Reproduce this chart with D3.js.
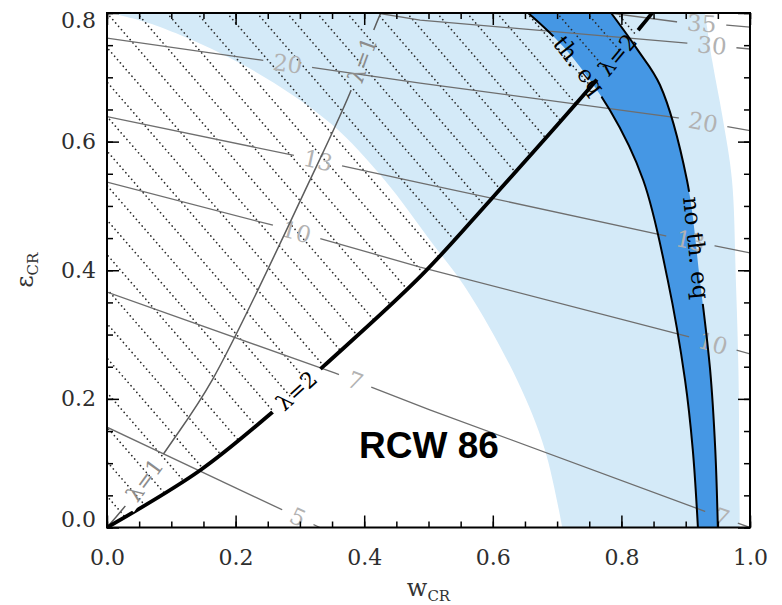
<!DOCTYPE html>
<html>
<head>
<meta charset="utf-8">
<script src="https://cdn.jsdelivr.net/npm/d3@7"></script>
<style>
  body { margin: 0; background: #fff; }
  svg { display: block; }
</style>
</head>
<body>
<svg id="chart" width="782" height="605"></svg>
<script>
// ---------------- data: points are [w_CR, eps_CR] ----------------
const xTicks = [0, 0.2, 0.4, 0.6, 0.8, 1.0];
const yTicks = [0, 0.2, 0.4, 0.6, 0.8];

// allowed (light blue) region: inner and outer boundary, top to bottom
const regionInner = [[0.005,0.80],[0.075,0.781],[0.218,0.716],[0.347,0.629],[0.432,0.540],
                     [0.502,0.447],[0.560,0.369],[0.638,0.229],[0.681,0.121],[0.708,0.0]];
const regionOuter = [[0.930,0.80],[0.941,0.727],[0.957,0.640],[0.972,0.540],[0.978,0.385],
                     [0.982,0.245],[0.984,0.0]];

// band between thermal equilibrium and no thermal equilibrium
const thEqCurve   = [[0.655,0.80],[0.714,0.743],[0.782,0.649],[0.834,0.540],[0.872,0.385],
                     [0.899,0.229],[0.911,0.121],[0.919,0.0]];
const noThEqCurve = [[0.784,0.80],[0.825,0.743],[0.860,0.688],[0.902,0.540],[0.922,0.385],
                     [0.938,0.245],[0.946,0.121],[0.950,0.0]];

// lambda curves
const lambda1 = [[0,0],[0.036,0.043],[0.098,0.129],[0.164,0.230],[0.316,0.541],
                 [0.378,0.676],[0.415,0.774],[0.430,0.81]];
const lambda2 = [[0,0],[0.145,0.089],[0.258,0.180],[0.336,0.250],[0.487,0.390],
                 [0.596,0.509],[0.759,0.693],[0.829,0.777],[0.860,0.815]];

// grey contours and their levels
const contourLevels = ["5", "7", "10", "13", "20", "30", "35"];
const contourPaths = [
  [[0,0.156],[0.331,0.0]],
  [[0,0.366],[0.355,0.240],[0.502,0.183],[0.933,0.024],[1.0,0.0]],
  [[0,0.537],[0.258,0.470],[0.487,0.405],[0.907,0.296],[1.0,0.270]],
  [[0,0.639],[0.289,0.579],[0.487,0.536],[0.876,0.452],[1.0,0.427]],
  [[0,0.761],[0.238,0.727],[0.487,0.691],[0.888,0.637],[1.0,0.617]],
  [[0.42,0.80],[0.487,0.789],[0.902,0.753],[1.0,0.744]],
  [[0.782,0.80],[0.888,0.786],[0.964,0.781],[1.0,0.778]]
];
// w_CR positions of the in-line labels for each contour
const contourLabelW = [[0.297],[0.386,0.956],[0.295,0.942],[0.328,0.907],[0.281,0.927],[0.941],[0.925]];

// in-line labels of the lambda curves: [text, curve index, axis, value]
const lambdaLabels = [["λ=1",0,"x",0.059],["λ=1",0,"y",0.727],["λ=2",1,"x",0.295],["λ=2",1,"x",0.794]];
// in-line labels of the band edges: [text, curve index, eps_CR]
const bandLabels = [["th. eq",0,0.719],["no th. eq",1,0.435]];

const sourceName = "RCW 86";

// ---------------- layout ----------------
const X0 = 107, X1 = 750, Y0 = 527.5, Y1 = 13;
const x = d3.scaleLinear().domain([0, 1]).range([X0, X1]);
const y = d3.scaleLinear().domain([0, 0.8]).range([Y0, Y1]);

const svg = d3.select("#chart");
const defs = svg.append("defs");
defs.append("clipPath").attr("id", "plot-clip").append("rect")
  .attr("x", X0).attr("y", Y1).attr("width", X1 - X0).attr("height", Y0 - Y1);

const smooth = d3.line().x(d => x(d[0])).y(d => y(d[1])).curve(d3.curveCatmullRom.alpha(0.5));
const straight = d3.line().x(d => x(d[0])).y(d => y(d[1]));

// closed area between two boundaries that both run top to bottom
function between(a, b) {
  return smooth(a) + "L" + smooth(b.slice().reverse()).slice(1) + "Z";
}

function makeMask(id) {
  const m = defs.append("mask").attr("id", id).attr("maskUnits", "userSpaceOnUse")
    .attr("x", 0).attr("y", 0).attr("width", 782).attr("height", 605);
  m.append("rect").attr("width", 782).attr("height", 605).attr("fill", "#fff");
  return m;
}

// point on a drawn path where its x (or y) equals a pixel target, with local direction
function locate(node, key, target) {
  const L = node.getTotalLength();
  let best = 0, bd = Infinity;
  for (let s = 0; s <= L; s += 0.5) {
    const p = node.getPointAtLength(s);
    const dd = Math.abs(p[key] - target);
    if (dd < bd) { bd = dd; best = s; }
  }
  const p = node.getPointAtLength(best);
  const a = node.getPointAtLength(Math.max(0, best - 4));
  const b = node.getPointAtLength(Math.min(L, best + 4));
  let ang = Math.atan2(b.y - a.y, b.x - a.x) * 180 / Math.PI;
  if (ang > 90) ang -= 180;
  if (ang < -90) ang += 180;
  return { x: p.x, y: p.y, angle: ang };
}

// text along a line, with a gap cut into the line underneath
function inlineLabel(layer, mask, node, key, pix, txt, size, color, pad) {
  const p = locate(node, key, pix);
  const tf = `translate(${p.x},${p.y}) rotate(${p.angle})`;
  const t = layer.append("text").attr("transform", tf)
    .attr("text-anchor", "middle").attr("dominant-baseline", "central")
    .attr("font-family", "'DejaVu Serif', serif").attr("font-size", size)
    .attr("fill", color).text(txt);
  const w = t.node().getComputedTextLength();
  const h = size * 0.9;
  mask.append("rect").attr("transform", tf)
    .attr("x", -w / 2 - pad).attr("y", -h / 2).attr("width", w + 2 * pad).attr("height", h)
    .attr("fill", "#000");
}

const plot = svg.append("g").attr("clip-path", "url(#plot-clip)");

// filled regions
plot.append("path").attr("d", between(regionInner, regionOuter)).attr("fill", "#d4eaf8");
plot.append("path").attr("d", between(thEqCurve, noThEqCurve)).attr("fill", "#4597e4");

// dotted hatching above the lambda = 2 curve
defs.append("clipPath").attr("id", "hatch-clip").append("path")
  .attr("d", smooth(lambda2) + `L${x(0)},${y(0.86)}Z`);
const hatch = plot.append("g").attr("clip-path", "url(#hatch-clip)")
  .attr("stroke", "#2a2a2a").attr("stroke-width", 1.7)
  .attr("stroke-linecap", "round").attr("stroke-dasharray", "0.01 4.4");
const hAng = 49 * Math.PI / 180;
d3.range(X0 - 720, X1, 30).forEach(sx => {
  hatch.append("line")
    .attr("x1", sx).attr("y1", Y1)
    .attr("x2", sx + 1100 * Math.cos(hAng)).attr("y2", Y1 + 1100 * Math.sin(hAng));
});

// grey contours with their level labels
const contourMask = makeMask("contour-gaps");
const contourG = plot.append("g").attr("mask", "url(#contour-gaps)")
  .attr("fill", "none").attr("stroke", "#6e6e6e").attr("stroke-width", 1.3);
const contourNodes = contourPaths.map(pts => contourG.append("path").attr("d", straight(pts)).node());
const contourText = plot.append("g");
contourLabelW.forEach((ws, i) => {
  ws.forEach(w => inlineLabel(contourText, contourMask, contourNodes[i], "x", x(w),
    contourLevels[i], 23, "#b2b2b2", 10));
});

// lambda curves
const lambdaMask = makeMask("lambda-gaps");
const lambdaG = plot.append("g").attr("mask", "url(#lambda-gaps)").attr("fill", "none");
const lambdaNodes = [
  lambdaG.append("path").attr("d", smooth(lambda1)).attr("stroke", "#5c5c5c").attr("stroke-width", 1.5).node(),
  lambdaG.append("path").attr("d", smooth(lambda2)).attr("stroke", "#000").attr("stroke-width", 3.8).node()
];
const lambdaText = plot.append("g");
lambdaLabels.forEach(([txt, ci, key, v]) => {
  const pix = key === "x" ? x(v) : y(v);
  inlineLabel(lambdaText, lambdaMask, lambdaNodes[ci], key, pix, txt, 22,
    ci === 0 ? "#8c8c8c" : "#000", 9);
});

// band edges
const bandMask = makeMask("band-gaps");
const bandG = plot.append("g").attr("mask", "url(#band-gaps)")
  .attr("fill", "none").attr("stroke", "#000").attr("stroke-width", 2);
const bandNodes = [thEqCurve, noThEqCurve].map(c => bandG.append("path").attr("d", smooth(c)).node());
const bandText = plot.append("g");
bandLabels.forEach(([txt, ci, e]) => {
  inlineLabel(bandText, bandMask, bandNodes[ci], "y", y(e), txt, 23, "#000", 5);
});

// source name
svg.append("text").attr("x", 359).attr("y", 458)
  .attr("font-family", "'Liberation Sans', Arial, sans-serif").attr("font-weight", "bold")
  .attr("font-size", 37).attr("fill", "#000").text(sourceName);

// ---------------- axes ----------------
const fmt = d3.format(".1f");
const minorX = d3.range(0, 1.0001, 0.05);
const minorY = d3.range(0, 0.8001, 0.05);
const tickFont = g => g.selectAll("text")
  .attr("font-family", "'DejaVu Serif', serif").attr("font-size", 22).attr("fill", "#2e2e2e");
const clean = g => { g.select(".domain").remove(); g.selectAll("line").attr("stroke", "#000").attr("stroke-width", 1.5); };

// bottom
svg.append("g").attr("transform", `translate(0,${Y0})`)
  .call(d3.axisBottom(x).tickValues(minorX).tickFormat("").tickSizeInner(-6).tickSizeOuter(0)).call(clean);
svg.append("g").attr("transform", `translate(0,${Y0})`)
  .call(d3.axisBottom(x).tickValues(xTicks).tickFormat(fmt).tickSizeInner(-12).tickSizeOuter(0).tickPadding(22))
  .call(clean).call(tickFont);
// top
svg.append("g").attr("transform", `translate(0,${Y1})`)
  .call(d3.axisTop(x).tickValues(minorX).tickFormat("").tickSizeInner(-6).tickSizeOuter(0)).call(clean);
svg.append("g").attr("transform", `translate(0,${Y1})`)
  .call(d3.axisTop(x).tickValues(xTicks).tickFormat("").tickSizeInner(-12).tickSizeOuter(0)).call(clean);
// left
svg.append("g").attr("transform", `translate(${X0},0)`)
  .call(d3.axisLeft(y).tickValues(minorY).tickFormat("").tickSizeInner(-6).tickSizeOuter(0)).call(clean);
const ly = svg.append("g").attr("transform", `translate(${X0},0)`)
  .call(d3.axisLeft(y).tickValues(yTicks).tickFormat(fmt).tickSizeInner(-12).tickSizeOuter(0).tickPadding(11))
  .call(clean).call(tickFont);
// end labels sit just inside the frame
ly.selectAll(".tick text").attr("dy", d => d === 0 ? "-0.05em" : d === 0.8 ? "0.68em" : "0.32em");
// right
svg.append("g").attr("transform", `translate(${X1},0)`)
  .call(d3.axisRight(y).tickValues(minorY).tickFormat("").tickSizeInner(-6).tickSizeOuter(0)).call(clean);
svg.append("g").attr("transform", `translate(${X1},0)`)
  .call(d3.axisRight(y).tickValues(yTicks).tickFormat("").tickSizeInner(-12).tickSizeOuter(0)).call(clean);

// frame
svg.append("rect").attr("x", X0).attr("y", Y1).attr("width", X1 - X0).attr("height", Y0 - Y1)
  .attr("fill", "none").attr("stroke", "#000").attr("stroke-width", 2);

// axis titles
const xt = svg.append("text").attr("x", (X0 + X1) / 2).attr("y", 596).attr("text-anchor", "middle")
  .attr("font-family", "'DejaVu Serif', serif").attr("fill", "#333");
xt.append("tspan").attr("font-size", 24).text("w");
xt.append("tspan").attr("font-size", 15).attr("dy", 5).text("CR");

const yt = svg.append("text").attr("transform", `translate(33,${(Y0 + Y1) / 2}) rotate(-90)`)
  .attr("text-anchor", "middle").attr("font-family", "'DejaVu Serif', serif").attr("fill", "#333");
yt.append("tspan").attr("font-size", 24).text("ε");
yt.append("tspan").attr("font-size", 15).attr("dy", 5).text("CR");
</script>
</body>
</html>
